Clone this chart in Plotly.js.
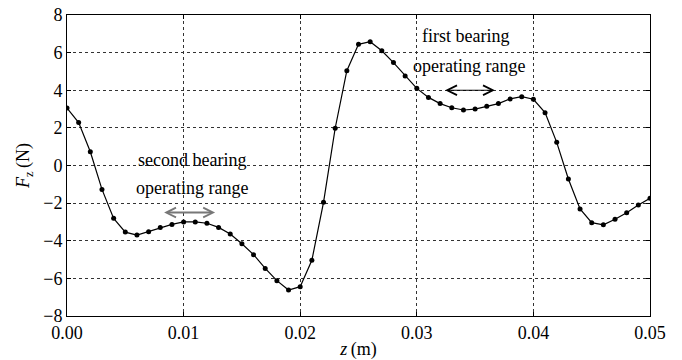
<!DOCTYPE html>
<html>
<head>
<meta charset="utf-8">
<script src="https://cdn.plot.ly/plotly-3.0.1.min.js"></script>
<style>
  html, body { margin: 0; padding: 0; background: #fff; }
  #chart { width: 682px; height: 360px; }
</style>
</head>
<body>
<div id="chart"></div>
<script>
// Axial force F_z along z, sampled every 1 mm
const zPositions = [
  0.000, 0.001, 0.002, 0.003, 0.004, 0.005, 0.006, 0.007, 0.008, 0.009,
  0.010, 0.011, 0.012, 0.013, 0.014, 0.015, 0.016, 0.017, 0.018, 0.019,
  0.020, 0.021, 0.022, 0.023, 0.024, 0.025, 0.026, 0.027, 0.028, 0.029,
  0.030, 0.031, 0.032, 0.033, 0.034, 0.035, 0.036, 0.037, 0.038, 0.039,
  0.040, 0.041, 0.042, 0.043, 0.044, 0.045, 0.046, 0.047, 0.048, 0.049,
  0.050
];
const forceFz = [
  3.05, 2.28, 0.73, -1.27, -2.81, -3.54, -3.70, -3.52, -3.30, -3.13,
  -3.00, -3.00, -3.07, -3.29, -3.64, -4.16, -4.74, -5.47, -6.12, -6.62,
  -6.44, -5.04, -1.96, 1.98, 5.04, 6.44, 6.58, 6.10, 5.47, 4.76,
  4.10, 3.62, 3.29, 3.07, 2.95, 3.00, 3.15, 3.29, 3.54, 3.66,
  3.52, 2.81, 1.23, -0.72, -2.31, -3.04, -3.15, -2.86, -2.51, -2.10,
  -1.74
];

const xTicks = [0, 0.01, 0.02, 0.03, 0.04, 0.05];
const yTicks = [-8, -6, -4, -2, 0, 2, 4, 6, 8];

// Bearing operating ranges: [z start, z end, F level of the arrow]
const secondRange = [0.0082, 0.0127, -2.5];
const firstRange = [0.0323, 0.0367, 4.0];

const serif = "'Liberation Serif', 'Times New Roman', serif";

const trace = {
  x: zPositions,
  y: forceFz,
  type: 'scatter',
  mode: 'lines+markers',
  line: { color: '#000', width: 1.2 },
  marker: { color: '#000', size: 5 },
  hoverinfo: 'skip'
};

// Double-headed arrow spanning a range
function rangeArrow(r, color, width) {
  return {
    xref: 'x', yref: 'y', axref: 'x', ayref: 'y',
    x: r[1], y: r[2], ax: r[0], ay: r[2],
    text: '', showarrow: true, arrowside: 'end+start',
    arrowhead: 5, startarrowhead: 5, arrowsize: 1.6 / width * 1.2, startarrowsize: 1.6 / width * 1.2,
    arrowwidth: width, arrowcolor: color,
    standoff: 0, startstandoff: 0
  };
}

function label(text, x, y) {
  return {
    xref: 'x', yref: 'y', x: x, y: y, text: text, showarrow: false,
    font: { family: serif, size: 18, color: '#000' },
    xanchor: 'center', yanchor: 'middle'
  };
}

const axisCommon = {
  showline: true, linecolor: '#000', linewidth: 1, mirror: 'ticks',
  ticks: 'inside', ticklen: 4, tickcolor: '#000',
  showgrid: true, gridcolor: '#333', griddash: 'dot', gridwidth: 1,
  zeroline: false,
  tickfont: { family: serif, size: 18, color: '#000' }
};

const layout = {
  width: 682, height: 360,
  margin: { l: 66.5, r: 31.5, t: 15, b: 44 },
  paper_bgcolor: '#fff', plot_bgcolor: '#fff',
  font: { family: serif, size: 18, color: '#000' },
  showlegend: false,
  xaxis: Object.assign({}, axisCommon, {
    range: [0, 0.05], tickvals: xTicks, tickformat: '.2f',
    title: { text: '<i>z</i>\u2009(m)', font: { family: serif, size: 18, color: '#000' }, standoff: 0 }
  }),
  yaxis: Object.assign({}, axisCommon, {
    range: [-8, 8], tickvals: yTicks,
    title: { text: '<i>F</i><sub>z</sub>\u2009(N)', font: { family: serif, size: 18, color: '#000' }, standoff: 8 }
  }),
  annotations: [
    label('second bearing', 0.0107, 0.3),
    label('operating range', 0.0107, -1.2),
    label('first bearing', 0.0342, 6.9),
    label('operating range', 0.0345, 5.3),
    rangeArrow(secondRange, '#777', 2),
    rangeArrow(firstRange, '#000', 1.2)
  ]
};

Plotly.newPlot('chart', [trace], layout, { displayModeBar: false, staticPlot: true });
</script>
</body>
</html>
